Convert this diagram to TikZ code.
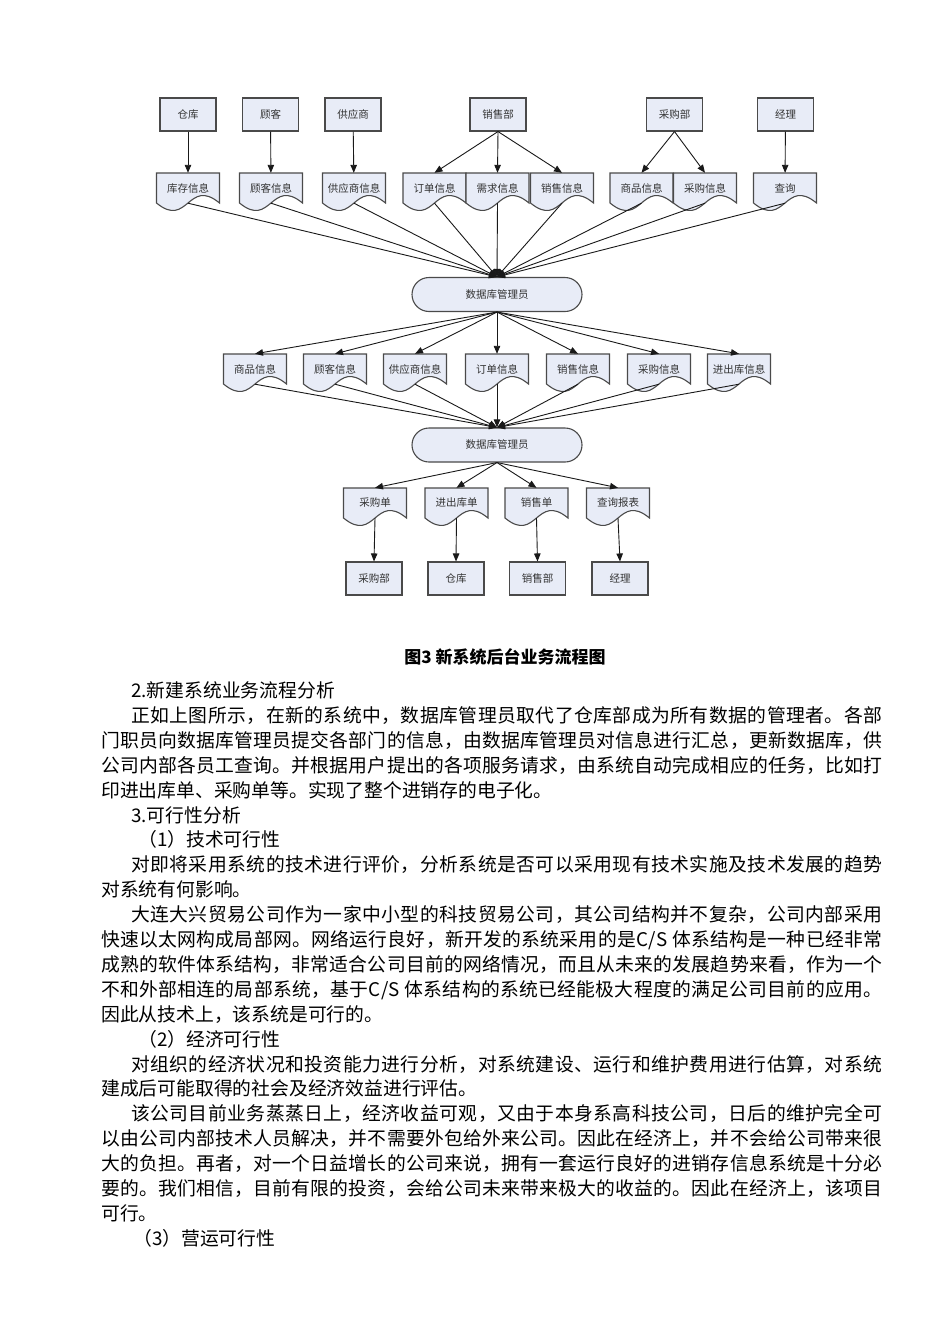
\documentclass[tikz,border=0pt]{standalone}
\usepackage{fontspec}
\setmainfont{Noto Sans CJK SC}
\usetikzlibrary{arrows.meta,shapes.misc}
\definecolor{boxfill}{HTML}{E8ECF7}
\definecolor{linec}{HTML}{4A4A4A}
\definecolor{labc}{HTML}{333333}
\makeatletter
\def\spreadtext#1{\spread@a#1\relax}
\def\spread@a#1{#1\spread@b}
\def\spread@b#1{\ifx\relax#1\else\hskip 0pt plus 1fil #1\expandafter\spread@b\fi}
\makeatother
\newcommand\docnode[4]{%
  \filldraw[docshape] ({#2-31.5},#3) -- ({#2+31.5},#3) -- ({#2+31.5},{#3+30})
    .. controls ({#2},{#3+30-26}) and ({#2},{#3+30+26}) .. ({#2-31.5},{#3+30}) -- cycle;
  \node[doctext] (#1) at (#2,{#3+15}) {#4};
}
\newcommand\jline[4]{\node[bodytext] at (#1,{#2+6.8}) {\hbox to #3pt{\spreadtext{#4}}};}
\newcommand\pline[3]{\node[bodytext] at (#1,{#2+6.8}) {#3};}
\tikzset{
  lab/.style={font=\fontsize{10.5}{12}\selectfont, text=labc},
  boxn/.style={lab, draw=linec, fill=boxfill, line width=1.1pt, minimum width=56pt, minimum height=33pt, inner sep=0pt},
  docshape/.style={draw=linec, fill=boxfill, line width=1.1pt},
  doctext/.style={lab, minimum width=63pt, minimum height=30pt, inner sep=0pt},
  dbn/.style={lab, rounded rectangle, draw=linec, fill=boxfill, line width=1.1pt, minimum width=170pt, minimum height=34pt, inner sep=0pt},
  conn/.style={draw=black!90, line width=0.9pt, -{Triangle[length=8pt,width=6.5pt]}},
  bodytext/.style={anchor=base west, inner sep=0pt, font=\fontsize{18.8}{22}\selectfont},
}
\begin{document}
\begin{tikzpicture}[x=1pt,y=-1pt]
\useasboundingbox (0,0) rectangle (950,1344);
\fill[white] (0,0) rectangle (950,1344);
% top boxes
\node[boxn] (ck)  at (188,114.5) {仓库};
\node[boxn] (gk)  at (270.5,114.5) {顾客};
\node[boxn] (gys) at (353,114.5) {供应商};
\node[boxn] (xsb) at (498,114.5) {销售部};
\node[boxn] (cgb) at (674.5,114.5) {采购部};
\node[boxn] (jl)  at (785.5,114.5) {经理};
% top docs
\docnode{kc}{188}{173}{库存信息}
\docnode{gkxx}{271}{173}{顾客信息}
\docnode{gysxx}{354}{173}{供应商信息}
\docnode{ddxx}{434.5}{173}{订单信息}
\docnode{xqxx}{497.5}{173}{需求信息}
\docnode{xsxx}{562}{173}{销售信息}
\docnode{spxx}{641.5}{173}{商品信息}
\docnode{cgxx}{705}{173}{采购信息}
\docnode{cx}{785}{173}{查询}
% db1
\node[dbn] (db1) at (497,294.5) {数据库管理员};
% middle docs
\docnode{m1}{255}{354}{商品信息}
\docnode{m2}{335}{354}{顾客信息}
\docnode{m3}{415}{354}{供应商信息}
\docnode{m4}{497}{354}{订单信息}
\docnode{m5}{578}{354}{销售信息}
\docnode{m6}{659}{354}{采购信息}
\docnode{m7}{739}{354}{进出库信息}
% db2
\node[dbn] (db2) at (497,445) {数据库管理员};
% bottom docs
\docnode{b1}{375}{488}{采购单}
\docnode{b2}{456.5}{488}{进出库单}
\docnode{b3}{536.5}{488}{销售单}
\docnode{b4}{618}{488}{查询报表}
% bottom boxes
\node[boxn] (bb1) at (374,578.5) {采购部};
\node[boxn] (bb2) at (456,578.5) {仓库};
\node[boxn] (bb3) at (537.5,578.5) {销售部};
\node[boxn] (bb4) at (620,578.5) {经理};
% connectors top
\draw[conn] (ck) -- (kc);
\draw[conn] (gk) -- (gkxx);
\draw[conn] (gys) -- (gysxx);
\draw[conn] (xsb.south) -- (ddxx.north);
\draw[conn] (xsb.south) -- (xqxx.north);
\draw[conn] (xsb.south) -- (xsxx.north);
\draw[conn] (cgb.south) -- (spxx.north);
\draw[conn] (cgb.south) -- (cgxx.north);
\draw[conn] (jl) -- (cx);
\foreach \n in {kc,gkxx,gysxx,ddxx,xqxx,xsxx,spxx,cgxx,cx}
  \draw[conn] (\n.south) -- (db1.north);
\foreach \n in {m1,m2,m3,m4,m5,m6,m7}
  \draw[conn] (db1.south) -- (\n.north);
\foreach \n in {m1,m2,m3,m4,m5,m6,m7}
  \draw[conn] (\n.south) -- (db2.north);
\foreach \n in {b1,b2,b3,b4}
  \draw[conn] (db2.south) -- (\n.north);
\draw[conn] (b1.south) -- (bb1.north);
\draw[conn] (b2.south) -- (bb2.north);
\draw[conn] (b3.south) -- (bb3.north);
\draw[conn] (b4.south) -- (bb4.north);
% caption
\node[font=\fontsize{17}{20}\selectfont\bfseries] (cap) at (505,657) {图3 新系统后台业务流程图};
% body text
\pline{131}{691}{2.新建系统业务流程分析}
\jline{131}{716}{751}{正如上图所示，在新的系统中，数据库管理员取代了仓库部成为所有数据的管理者。各部}
\jline{101}{741}{781}{门职员向数据库管理员提交各部门的信息，由数据库管理员对信息进行汇总，更新数据库，供}
\jline{101}{766}{781}{公司内部各员工查询。并根据用户提出的各项服务请求，由系统自动完成相应的任务，比如打}
\pline{101}{791}{印进出库单、采购单等。实现了整个进销存的电子化。}
\pline{131}{815.5}{3.可行性分析}
\pline{138}{840}{（1）技术可行性}
\jline{131}{865}{751}{对即将采用系统的技术进行评价，分析系统是否可以采用现有技术实施及技术发展的趋势}
\pline{101}{890}{对系统有何影响。}
\jline{131}{915}{751}{大连大兴贸易公司作为一家中小型的科技贸易公司，其公司结构并不复杂，公司内部采用}
\jline{101}{940}{781}{快速以太网构成局部网。网络运行良好，新开发的系统采用的是C/S~体系结构是一种已经非常}
\jline{101}{965}{781}{成熟的软件体系结构，非常适合公司目前的网络情况，而且从未来的发展趋势来看，作为一个}
\jline{101}{990}{781}{不和外部相连的局部系统，基于C/S~体系结构的系统已经能极大程度的满足公司目前的应用。}
\pline{101}{1015}{因此从技术上，该系统是可行的。}
\pline{138}{1040}{（2）经济可行性}
\jline{131}{1064.5}{751}{对组织的经济状况和投资能力进行分析，对系统建设、运行和维护费用进行估算，对系统}
\pline{101}{1089}{建成后可能取得的社会及经济效益进行评估。}
\jline{131}{1114}{751}{该公司目前业务蒸蒸日上，经济收益可观，又由于本身系高科技公司，日后的维护完全可}
\jline{101}{1139}{781}{以由公司内部技术人员解决，并不需要外包给外来公司。因此在经济上，并不会给公司带来很}
\jline{101}{1164}{781}{大的负担。再者，对一个日益增长的公司来说，拥有一套运行良好的进销存信息系统是十分必}
\jline{101}{1189}{781}{要的。我们相信，目前有限的投资，会给公司未来带来极大的收益的。因此在经济上，该项目}
\pline{101}{1214}{可行。}
\pline{133}{1239}{（3）营运可行性}
\end{tikzpicture}
\end{document}
